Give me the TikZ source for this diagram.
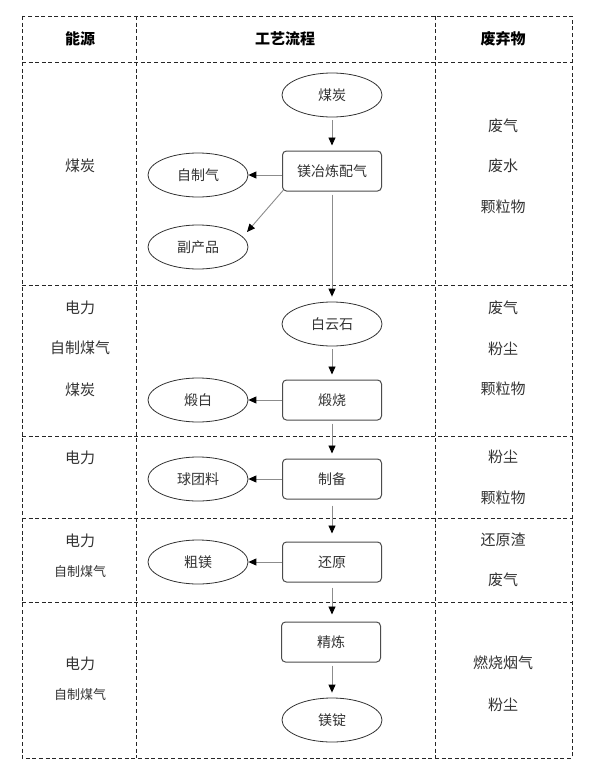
\documentclass[tikz,border=0pt]{standalone}
\usepackage{fontspec}
\setmainfont{Noto Sans CJK SC}
\usetikzlibrary{arrows.meta,shapes.geometric}
\begin{document}
\begin{tikzpicture}[x=1pt,y=-1pt,
  grid/.style={dash pattern=on 4pt off 2.6pt, line width=0.8pt, draw=black!85},
  proc/.style={draw=black!70, line width=1pt, rounded corners=4pt, minimum width=99pt, minimum height=40pt, inner sep=0pt, font=\fontsize{14}{16}\selectfont, text=black!80},
  oval/.style={ellipse, draw=black!80, line width=0.8pt, minimum width=100pt, minimum height=44pt, inner sep=0pt, font=\fontsize{14}{16}\selectfont, text=black!80},
  flow/.style={draw=black!45, line width=0.9pt, -{Triangle[length=8pt,width=7pt,black]}},
  vflow/.style={flow, shorten <=3pt, shorten >=5pt},
  lbl/.style={font=\fontsize{15}{17}\selectfont, text=black!80, inner sep=0pt},
  slbl/.style={font=\fontsize{13}{15}\selectfont, text=black!80, inner sep=0pt},
  hdr/.style={font=\fontsize{15}{17}\selectfont\bfseries, text=black, inner sep=0pt}
]
\useasboundingbox (0,0) rectangle (597,776);
\fill[white] (0,0) rectangle (597,776);

% grid
\draw[grid] (22,16) rectangle (572,758);
\draw[grid] (136,16) -- (136,758);
\draw[grid] (435,16) -- (435,758);
\foreach \yy in {62,285,436,518,602} \draw[grid] (22,\yy) -- (572,\yy);

% headers
\node[hdr] (h1) at (80,39) {能源};
\node[hdr] (h2) at (285,39) {工艺流程};
\node[hdr] (h3) at (503,39) {废弃物};

% energy column
\node[lbl] (e1) at (80,166) {煤炭};
\node[lbl] (e2a) at (80,308) {电力};
\node[lbl] (e2b) at (80,348) {自制煤气};
\node[lbl] (e2c) at (80,390) {煤炭};
\node[lbl] (e3) at (80,458) {电力};
\node[lbl] (e4a) at (80,541) {电力};
\node[slbl] (e4b) at (80,572) {自制煤气};
\node[lbl] (e5a) at (80,664) {电力};
\node[slbl] (e5b) at (80,695) {自制煤气};

% waste column
\node[lbl] (w1a) at (503,126) {废气};
\node[lbl] (w1b) at (503,166) {废水};
\node[lbl] (w1c) at (503,207) {颗粒物};
\node[lbl] (w2a) at (503,308) {废气};
\node[lbl] (w2b) at (503,349) {粉尘};
\node[lbl] (w2c) at (503,389) {颗粒物};
\node[lbl] (w3a) at (503,457) {粉尘};
\node[lbl] (w3b) at (503,498) {颗粒物};
\node[lbl] (w4a) at (503,540) {还原渣};
\node[lbl] (w4b) at (503,580) {废气};
\node[lbl] (w5a) at (503,663) {燃烧烟气};
\node[lbl] (w5b) at (503,705) {粉尘};

% flow nodes
\node[oval] (coal) at (332,95) {煤炭};
\node[proc] (mix) at (332,171) {镁冶炼配气};
\node[oval] (gas) at (198,175) {自制气};
\node[oval] (byp) at (198,247) {副产品};
\node[oval] (dolo) at (332,324) {白云石};
\node[proc] (calc) at (332,400) {煅烧};
\node[oval] (cw) at (198,400) {煅白};
\node[proc] (prep) at (332,479) {制备};
\node[oval] (ball) at (198,479) {球团料};
\node[proc] (red) at (332,562) {还原};
\node[oval] (crude) at (198,562) {粗镁};
\node[proc] (ref) at (331,642) {精炼};
\node[oval] (ingot) at (332,720) {镁锭};

\coordinate (bypin) at (247,232);

% connectors
\draw[vflow] (coal) -- (mix);
\draw[flow] (mix.west |- gas.east) -- (gas.east);
\draw[flow] ([xshift=1pt,yshift=1pt]mix.south west) -- (bypin);
\draw[vflow] (mix) -- (dolo);
\draw[vflow] (dolo) -- (calc);
\draw[flow] (calc) -- (cw);
\draw[vflow] (calc) -- (prep);
\draw[flow] (prep) -- (ball);
\draw[vflow, shorten <=6pt, shorten >=8pt] (prep) -- (red);
\draw[flow] (red) -- (crude);
\draw[vflow, shorten <=5pt, shorten >=7pt] (red.south) -- (red.south |- ref.north);
\draw[vflow] (ref.south -| ingot) -- (ingot);
\end{tikzpicture}
\end{document}
